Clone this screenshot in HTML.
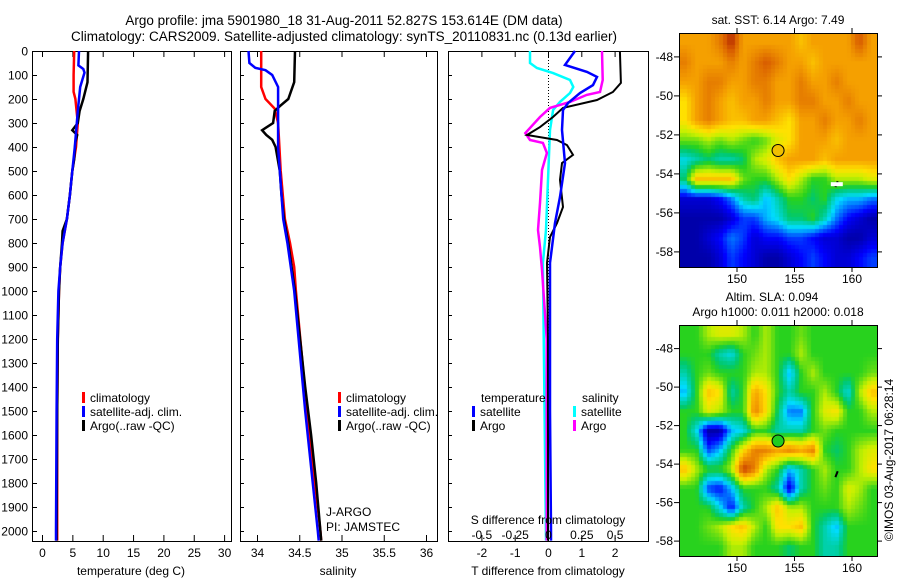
<!DOCTYPE html>
<html><head><meta charset="utf-8"><style>
body{margin:0;background:#fff;width:900px;height:580px;overflow:hidden;position:relative;font-family:"Liberation Sans",sans-serif}
svg{position:absolute;left:0;top:0}
canvas{position:absolute}
text{font-family:"Liberation Sans",sans-serif;font-size:12px;fill:#000}
</style></head><body>
<canvas id="sst" width="198" height="234" style="left:679px;top:33px"></canvas>
<canvas id="sla" width="198" height="231" style="left:679px;top:325px"></canvas>
<svg id="chart" width="900" height="580"></svg>
<script>
// ---- profile data (depth in dbar) ----
const tClimDepth=[0,100,170,200,300,400,500,600,700,800,900,1000,1200,1500,2000,2040];
const tClimVal=[5.3,5.2,5.2,5.5,5.9,5.6,5.0,4.6,4.1,3.4,3.0,2.8,2.6,2.5,2.5,2.5];
const tSatDepth=[0,60,75,90,150,250,400,500,600,700,800,900,1000,1200,1500,2000,2040];
const tSatVal=[6.1,6.0,6.8,7.0,6.3,5.9,5.4,5.0,4.6,4.1,3.4,3.0,2.7,2.5,2.4,2.3,2.3];
const tArgoDepth=[0,130,200,250,300,330,350,380,450,500,600,700,750,800,900,1000,1200,1500,2000,2040];
const tArgoVal=[7.6,7.5,6.8,6.2,5.9,5.0,5.8,5.5,5.3,5.0,4.6,4.1,3.4,3.3,3.0,2.8,2.6,2.5,2.4,2.4];
const sClimDepth=[0,150,200,240,300,500,700,800,900,1000,1500,2000,2040];
const sClimVal=[34.05,34.05,34.1,34.21,34.25,34.28,34.33,34.39,34.44,34.46,34.59,34.75,34.76];
const sSatDepth=[0,50,70,80,100,150,400,500,600,700,800,1000,1500,2000,2040];
const sSatVal=[33.9,33.91,33.98,34.1,34.18,34.25,34.25,34.27,34.29,34.31,34.36,34.44,34.57,34.72,34.73];
const sArgoDepth=[0,130,200,230,250,300,330,350,370,400,500,600,700,800,900,1000,1200,1400,1600,1800,2000,2040];
const sArgoVal=[34.45,34.44,34.37,34.27,34.21,34.19,34.06,34.11,34.18,34.22,34.27,34.29,34.32,34.37,34.41,34.45,34.51,34.57,34.64,34.70,34.75,34.76];
// differences
const dTSatDepth=[0,58,87,108,142,175,217,246,329,467,608,717,817,883,1500,2000,2040];
const dTSatVal=[0.81,0.51,1.17,1.47,1.35,0.96,0.6,0.45,0.42,0.51,0.36,0.21,0.12,0.06,0.06,0.09,0.09];
const dTArgoDepth=[0,133,171,204,237,275,317,350,371,392,433,467,537,650,717,775,883,1200,2040];
const dTArgoVal=[2.16,2.19,1.95,1.47,0.45,0.15,-0.24,-0.63,0.27,0.57,0.75,0.42,0.36,0.45,0.27,0.06,-0.03,0.0,0.0];
const dSSatDepth=[0,50,71,92,121,150,175,212,246,329,537,746,883,2040];
const dSSatVal=[-0.135,-0.135,-0.083,0.038,0.165,0.19,0.165,0.09,0.038,0.015,0,-0.015,-0.038,-0.015];
const dSArgoDepth=[0,121,171,183,212,237,275,342,371,383,425,496,633,746,817,912,1200,2040];
const dSArgoVal=[0.405,0.41,0.39,0.29,0.165,0.015,-0.06,-0.17,-0.135,-0.038,-0.008,-0.045,-0.06,-0.075,-0.06,-0.045,-0.01,-0.01];
// ---- map data (0..10 colour index), rows lat -47.3..-58.3, cols lon 145.5..161.5 ----
const sstGrid=[
[8,8,8,8.5,9.5,8,8,8,8,8,7.5,8,8,8,8,9,8],
[8.5,8,8,8,8.5,8,8.5,9,8.5,8,8,7.5,8,8,8,8,8],
[8,8,8.5,8.5,8,8,8.5,8.5,8,8,8.5,8,8,8.5,8,8,8],
[7,8,8.5,8,7.5,8,8,8.5,8,8,8.5,8.5,8,8,8.5,8,8],
[7,8,8.5,8,7.5,7.5,8,8,7.5,7,8,8,8.5,8,8,8.5,8],
[5.5,5.5,6,5.5,6,5.5,5,5.5,6.5,7,8,8,8,7.5,8,8,8],
[3.5,4,4.5,4,4,4.5,6,6.5,7.5,8,8,8,7.5,8,8,8,8],
[4.5,7.5,7.5,7.5,7.5,5.5,5,5,6,7,6,5,5,6,6,6,6.5],
[1,1,1,1.5,2.5,4,4.5,3,4,5,5,4.5,5,3.5,3,3,2.5],
[0.5,0.5,0.5,0.5,1,2,2,3,3.5,4.5,4.5,5,4,2.5,1.5,1,0.5],
[0.5,0.5,1,1.5,2.5,2,1,1.5,1.5,2,2,1.5,1,1,0.5,0.5,1],
[0.5,0.5,0.5,1,2,1.5,1,0.5,0.5,1,1.5,2,1.5,1,1,1.5,2]];
const slaGrid=[
[5,5,6,6.5,6.5,6,5,6,5,5,5.5,5,5,5,5,5,5],
[5,5,5,4,3.5,5,5.5,6,5,5,6,5,5,5,5,5,5],
[4,5,5.5,5,5,5,6,6,5,3,5,6,5,5,5,5,5.5],
[3,5,7.5,7,4,5,8,7,5,4,5,5,6,5,3.5,6,7.5],
[5,5,6.5,6,5,5,8.5,7,4.5,2.5,2.5,5,6.5,7,5,5,6],
[5,3.5,0.5,0.5,3,3.5,5,5,4,4,4,5,5.5,5,5,5,5],
[5,5,2,3,5,7,8.5,8.5,8,8.5,8,8.5,5,4.5,5,6,6.5],
[7.5,6,5,5,6,9.5,8.5,6,5,3,4,5,6,5,5,6,7],
[5,5,2,1.5,3,5,5,5,4,1,4,5,5.5,5,6.5,6,5],
[5,5,5,3.5,1.5,4,5,6,7.5,6,6,5,5,5,6,5.5,5],
[5,5,5.5,6,7,7.5,6,5,7,7,7.5,5,4,3,5,5,5],
[5,5,5,5,6,6,5,5,5,4.5,5,5,4,4,5,5,5]];
const depthTicks=[0,100,200,300,400,500,600,700,800,900,1000,1100,1200,1300,1400,1500,1600,1700,1800,1900,2000];
const tTicks=[0,5,10,15,20,25,30];
const sTicks=[34,34.5,35,35.5,36];
const sTickLabels=["34","34.5","35","35.5","36"];
const dTTicks=[-2,-1,0,1,2];
const dSTicks=[-0.5,-0.25,0,0.25,0.5];
const dSTickLabels=["-0.5","-0.25","0","0.25","0.5"];
const latTicks=[-48,-50,-52,-54,-56,-58];
const lonTicks=[150,155,160];

const NS="http://www.w3.org/2000/svg";
const svg=document.getElementById('chart');
function el(tag,attrs,parent){const e=document.createElementNS(NS,tag);for(const k in attrs)e.setAttribute(k,attrs[k]);(parent||svg).appendChild(e);return e;}
function txt(x,y,s,anchor,size,parent){const t=el('text',{x:x,y:y,'text-anchor':anchor||'start'},parent);if(size)t.style.fontSize=size+'px';t.textContent=s;return t;}

const yD=d=>51+d*0.24;
const xT=v=>42+v*6.07;
const xS=v=>257+(v-34)*84.5;
const xDT=v=>548+v*33.3;
const xDS=v=>548+v*133.3;

let t=txt(344,25,"Argo profile: jma 5901980_18 31-Aug-2011 52.827S 153.614E (DM data)","middle",13.5);

t=txt(344,41,"Climatology: CARS2009. Satellite-adjusted climatology: synTS_20110831.nc (0.13d earlier)","middle",13.5);


function panel(name,x0,x1){
  const g=el('g',{});
  
  
  el('rect',{x:x0+0.5,y:51.5,width:x1-x0,height:490,fill:'none',stroke:'#000','stroke-width':1},g);
  return g;
}
function line(g,depths,vals,xf,color,name,w){
  const pts=depths.map((d,i)=>xf(vals[i]).toFixed(1)+','+yD(d).toFixed(1)).join(' ');
  const p=el('polyline',{points:pts,fill:'none',stroke:color,'stroke-width':w||2.5},g);
  
  
}
function xticks(g,ticks,xf,labels,ly){
  ticks.forEach((v,i)=>{
    const x=xf(v)+0.5;
    el('line',{x1:x,x2:x,y1:51,y2:57,stroke:'#000'},g);
    el('line',{x1:x,x2:x,y1:541,y2:535,stroke:'#000'},g);
    if(labels){const tt=txt(x,ly,labels[i],'middle',12,g);}
  });
}
function legendEntry(g,x,y,color,label){
  el('rect',{x:x,y:y-10,width:3,height:11,fill:color},g);
  const tt=txt(x+8,y,label,'start',12,g);
  
  
}

const p1=panel('temperature-panel',32,231);
depthTicks.forEach(d=>{
  const y=yD(d)+0.5;
  el('line',{x1:32,x2:37,y1:y,y2:y,stroke:'#000'},p1);
  const tt=txt(28,y+4,String(d),'end',12,p1);
  
});
xticks(p1,tTicks,xT,tTicks.map(String),557);
line(p1,tClimDepth,tClimVal,xT,'#ff0000','temp-climatology-line');
line(p1,tArgoDepth,tArgoVal,xT,'#000000','temp-argo-line');
line(p1,tSatDepth,tSatVal,xT,'#0000ff','temp-satellite-line');
t=txt(131,575,"temperature (deg C)","middle",12,p1);
legendEntry(p1,82,402,'#ff0000','climatology');
legendEntry(p1,82,416,'#0000ff','satellite-adj. clim.');
legendEntry(p1,82,430,'#000000','Argo(..raw -QC)');

const p2=panel('salinity-panel',240,437);
depthTicks.forEach(d=>{const y=yD(d)+0.5;el('line',{x1:240,x2:244,y1:y,y2:y,stroke:'#000'},p2);});
xticks(p2,sTicks,xS,sTickLabels,557);
line(p2,sClimDepth,sClimVal,xS,'#ff0000','sal-climatology-line');
line(p2,sArgoDepth,sArgoVal,xS,'#000000','sal-argo-line');
line(p2,sSatDepth,sSatVal,xS,'#0000ff','sal-satellite-line');
t=txt(338,575,"salinity","middle",12,p2);
legendEntry(p2,338,402,'#ff0000','climatology');
legendEntry(p2,338,416,'#0000ff','satellite-adj. clim.');
legendEntry(p2,338,430,'#000000','Argo(..raw -QC)');
t=txt(326,516,"J-ARGO","start",12,p2);
t=txt(326,531,"PI: JAMSTEC","start",12,p2);

const p3=panel('difference-panel',448,648);
depthTicks.forEach(d=>{const y=yD(d)+0.5;el('line',{x1:448,x2:452,y1:y,y2:y,stroke:'#000'},p3);});
xticks(p3,dTTicks,xDT,dTTicks.map(String),557);
el('line',{x1:548.5,x2:548.5,y1:51,y2:541,stroke:'#000','stroke-dasharray':'1,2'},p3);
line(p3,dSSatDepth,dSSatVal,xDS,'#00ffff','sdiff-satellite-line',2.5);
line(p3,dSArgoDepth,dSArgoVal,xDS,'#ff00ff','sdiff-argo-line',2.5);
line(p3,dTArgoDepth,dTArgoVal,xDT,'#000000','tdiff-argo-line',2);
line(p3,dTSatDepth,dTSatVal,xDT,'#0000ff','tdiff-satellite-line',2.5);
t=txt(481,402,"temperature","start",12,p3);
t=txt(582,402,"salinity","start",12,p3);
legendEntry(p3,472,416,'#0000ff','satellite');
legendEntry(p3,472,430,'#000000','Argo');
legendEntry(p3,573,416,'#00ffff','satellite');
legendEntry(p3,573,430,'#ff00ff','Argo');
t=txt(548,524,"S difference from climatology","middle",12,p3);
dSTicks.forEach((v,i)=>{const tt=txt(xDS(v)+0.5,539,dSTickLabels[i],'middle',12,p3);});
t=txt(548,575,"T difference from climatology","middle",12,p3);

const stops=[[0,[0,0,128]],[0.15,[0,0,255]],[0.33,[0,220,255]],[0.45,[0,200,110]],[0.5,[40,210,30]],[0.62,[200,240,0]],[0.7,[255,225,0]],[0.8,[245,160,0]],[0.9,[215,90,0]],[1,[150,0,0]]];
function cmap(v){const tt=Math.max(0,Math.min(1,v/10));for(let i=1;i<stops.length;i++){if(tt<=stops[i][0]){const a=stops[i-1],b=stops[i];const f=(tt-a[0])/(b[0]-a[0]);return a[1].map((c,k)=>Math.round(c+(b[1][k]-c)*f));}}return stops[stops.length-1][1];}
function drawMap(id,grid){
  const cv=document.getElementById(id),ctx=cv.getContext('2d');
  const rows=grid.length,cols=grid[0].length,W=cv.width,H=cv.height;
  const img=ctx.createImageData(W,H);
  const blk=4; // pixelated like the source (~0.25 deg cells)
  for(let py=0;py<H;py++){
    const gy=Math.min(rows-1,Math.max(0,((Math.floor(py/blk)*blk+blk/2)/H)*rows-0.5));
    const r0=Math.floor(gy),r1=Math.min(rows-1,r0+1),fy=gy-r0;
    for(let px=0;px<W;px++){
      const gx=Math.min(cols-1,Math.max(0,((Math.floor(px/blk)*blk+blk/2)/W)*cols-0.5));
      const c0=Math.floor(gx),c1=Math.min(cols-1,c0+1),fx=gx-c0;
      const v=(grid[r0][c0]*(1-fx)+grid[r0][c1]*fx)*(1-fy)+(grid[r1][c0]*(1-fx)+grid[r1][c1]*fx)*fy;
      const col=cmap(v);const i=(py*W+px)*4;
      img.data[i]=col[0];img.data[i+1]=col[1];img.data[i+2]=col[2];img.data[i+3]=255;
    }
  }
  ctx.putImageData(img,0,0);
}
drawMap('sst',sstGrid);
drawMap('sla',slaGrid);

function mapAxes(name,top,bottom,markColor){
  const g=el('g',{});
  
  
  const lonX=v=>679+(v-145)*11.5;
  const latY=v=>top+(-46.8-v)*(bottom-top)/12;
  el('rect',{x:679.5,y:top+0.5,width:198,height:bottom-top,fill:'none',stroke:'#000'},g);
  latTicks.forEach(v=>{const y=latY(v)+0.5;el('line',{x1:674,x2:679,y1:y,y2:y,stroke:'#000'},g);el('line',{x1:877,x2:882,y1:y,y2:y,stroke:'#000'},g);
    const tt=txt(673,y+4,String(v),'end',12,g);});
  lonTicks.forEach(v=>{const x=lonX(v)+0.5;el('line',{x1:x,x2:x,y1:top-5,y2:top,stroke:'#000'},g);el('line',{x1:x,x2:x,y1:bottom,y2:bottom+5,stroke:'#000'},g);
    const tt=txt(x,bottom+16,String(v),'middle',12,g);});
  const c=el('circle',{cx:lonX(153.614),cy:latY(-52.827),r:6,fill:markColor,stroke:'#000'},g);
  
  el('line',{x1:lonX(158.8),y1:latY(-54.4),x2:lonX(158.6),y2:latY(-54.7),stroke:'#000','stroke-width':2},g);
  return {g,lonX,latY};
}
const m1=mapAxes('sst-map-axes',33,267,'#f0c000');
el('rect',{x:m1.lonX(158.2),y:m1.latY(-54.45),width:12,height:4,fill:'#fff'},m1.g);
t=txt(778,24,"sat. SST: 6.14  Argo: 7.49","middle",12);
const m2=mapAxes('sla-map-axes',325,556,'#20cc20');
t=txt(772,301,"Altim. SLA: 0.094","middle",12);
t=txt(778,316,"Argo h1000: 0.011 h2000: 0.018","middle",12);
t=txt(0,0,"©IMOS 03-Aug-2017 06:28:14","middle",12);
t.setAttribute('transform','translate(893,460) rotate(-90)');

</script>
</body></html>
